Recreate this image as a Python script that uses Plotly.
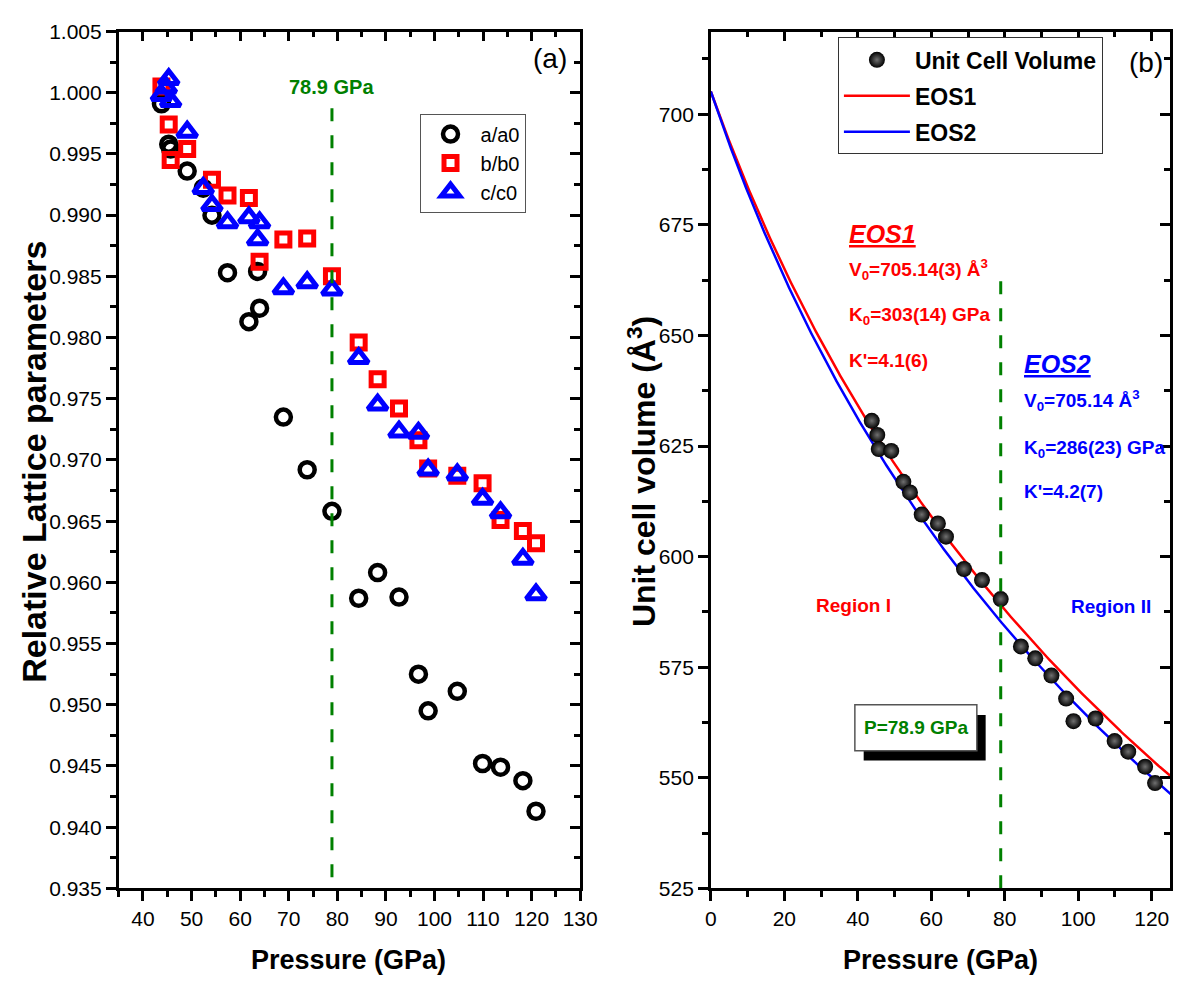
import numpy as np
import plotly.graph_objects as go

# ---------------- panel (a): relative lattice parameters ----------------
p_a = [43.8, 45.3, 45.7, 49.1, 52.4, 54.2, 57.4, 61.8, 63.6, 64.0, 68.9, 73.8,
       78.9, 84.4, 88.3, 92.7, 96.7, 98.7, 104.7, 109.9, 113.6, 118.2, 120.9]
a_rel = [0.9991, 0.9958, 0.9954, 0.9936, 0.9922, 0.9900, 0.9853, 0.9813, 0.9854,
         0.9824, 0.9735, 0.9692, 0.9658, 0.9587, 0.9608, 0.9588, 0.9525, 0.9495,
         0.9511, 0.9452, 0.9449, 0.9438, 0.9413]

p_b = [43.8, 45.3, 45.7, 49.1, 54.2, 57.4, 61.8, 64.0, 68.9, 73.8, 78.9, 84.4,
       88.3, 92.7, 96.7, 98.7, 104.7, 109.9, 113.6, 118.2, 120.9]
b_rel = [1.0005, 0.9974, 0.9945, 0.9954, 0.9929, 0.9916, 0.9914, 0.9862, 0.9880,
         0.9881, 0.9850, 0.9796, 0.9766, 0.9742, 0.9716, 0.9693, 0.9687, 0.9681,
         0.9651, 0.9642, 0.9632]

p_c = [43.8, 44.8, 45.3, 45.7, 49.1, 52.4, 54.2, 57.4, 61.8, 64.0, 63.6, 68.9,
       73.8, 78.9, 84.4, 88.3, 92.7, 96.7, 98.7, 104.7, 109.9, 113.6, 118.2, 120.9]
c_rel = [0.9998, 1.0004, 1.0011, 0.9993, 0.9968, 0.9922, 0.9908, 0.9894, 0.9898,
         0.9894, 0.9880, 0.9840, 0.9845, 0.9839, 0.9783, 0.9745, 0.9723, 0.9722,
         0.9692, 0.9688, 0.9668, 0.9657, 0.9619, 0.9590]

# ---------------- panel (b): unit-cell volume ----------------
p_vol = [43.8, 45.3, 45.7, 49.1, 52.4, 54.2, 57.4, 61.8, 64.0, 68.9, 73.8, 78.9,
         84.4, 88.3, 92.7, 96.7, 98.7, 104.7, 109.9, 113.6, 118.2, 120.9]
volume = [630.7, 627.5, 624.3, 623.9, 616.9, 614.5, 609.5, 607.5, 604.5, 597.2,
          594.7, 590.4, 579.7, 577.0, 573.1, 567.9, 562.8, 563.4, 558.3, 555.9,
          552.5, 548.8]

# third-order Birch-Murnaghan fit parameters
EOS1 = dict(V0=705.14, K0=303.0, Kp=4.1)
EOS2 = dict(V0=705.14, K0=286.0, Kp=4.2)
P_TRANSITION = 78.9


def bm3_pressure(V, V0, K0, Kp):
    f = (V0 / V) ** (2.0 / 3.0)
    return 1.5 * K0 * (f ** 3.5 - f ** 2.5) * (1.0 + 0.75 * (Kp - 4.0) * (f - 1.0))


v_grid = np.linspace(EOS1["V0"], 540.0, 400)
p_eos1 = bm3_pressure(v_grid, **EOS1)
p_eos2 = bm3_pressure(v_grid, **EOS2)

# ---------------- styling ----------------
FONT = "Liberation Sans, Arial, sans-serif"
W, H = 1193, 999
RED, BLUE, GREEN = "#ff0000", "#0000ff", "#008000"


def fx(px):
    return px / W


def fy(py):
    return 1 - py / H


fig = go.Figure()

# panel (a) markers
fig.add_trace(go.Scatter(
    x=p_a, y=a_rel, mode="markers", name="a/a0", legend="legend", legendgroup="a",
    marker=dict(symbol="circle-open", size=15, color="black", line=dict(width=4.5)),
    xaxis="x", yaxis="y"))
fig.add_trace(go.Scatter(
    x=p_b, y=b_rel, mode="markers", name="b/b0", legend="legend", legendgroup="b",
    marker=dict(symbol="square-open", size=13, color=RED, line=dict(width=5)),
    xaxis="x", yaxis="y"))
fig.add_trace(go.Scatter(
    x=p_c, y=c_rel, mode="markers", name="c/c0", legend="legend", legendgroup="c",
    marker=dict(symbol="triangle-up-open", size=17, color=BLUE, line=dict(width=5)),
    xaxis="x", yaxis="y"))

# panel (b) fits and data
fig.add_trace(go.Scatter(
    x=p_eos1, y=v_grid, mode="lines", name="EOS1", legend="legend2", legendgroup="e1",
    legendrank=2, line=dict(color=RED, width=2.5), xaxis="x2", yaxis="y2"))
fig.add_trace(go.Scatter(
    x=p_eos2, y=v_grid, mode="lines", name="EOS2", legend="legend2", legendgroup="e2",
    legendrank=3, line=dict(color=BLUE, width=2.5), xaxis="x2", yaxis="y2"))
fig.add_trace(go.Scatter(
    x=p_vol, y=volume, mode="markers", name="Unit Cell Volume", legend="legend2",
    legendgroup="v", legendrank=1,
    marker=dict(symbol="circle", size=16, color="black",
                gradient=dict(type="radial", color="#707070"),
                line=dict(width=0)),
    xaxis="x2", yaxis="y2"))

# empty traces that attach the mirrored (top / right) frame axes
for xa, ya in (("x3", "y"), ("x", "y3"), ("x4", "y2"), ("x2", "y4")):
    fig.add_trace(go.Scatter(x=[], y=[], xaxis=xa, yaxis=ya, showlegend=False,
                             hoverinfo="skip"))

AX_LINE = dict(showline=True, linecolor="black", linewidth=2.5, showgrid=False,
               zeroline=False, ticklen=10, tickwidth=2.5, tickcolor="black",
               tickfont=dict(family=FONT, size=21, color="black"))


def minor(kind, step, start=None):
    m = dict(ticks=kind, dtick=step, ticklen=6, tickwidth=2.5, tickcolor="black")
    if start is not None:
        m["tick0"] = start
    return m


left_x = [fx(115), fx(586)]
right_x = [fx(719.3), fx(1188)]
y_dom = [fy(897), fy(20)]
range_xa = [35, 130]
range_ya = [0.935, 1.005]
range_xb = [0, 125]
range_yb = [525, 718.7]

fig.update_layout(
    width=W, height=H, margin=dict(l=0, r=0, t=0, b=0),
    paper_bgcolor="white", plot_bgcolor="white", showlegend=True,
    font=dict(family=FONT, color="black"),
    xaxis=dict(domain=left_x, range=range_xa, anchor="y", tick0=40, dtick=10,
               ticks="outside", minor=minor("outside", 5, 35), **AX_LINE),
    yaxis=dict(domain=y_dom, range=range_ya, anchor="x", tick0=0.935, dtick=0.005,
               tickformat=".3f", ticks="outside", minor=minor("outside", 0.0025),
               **AX_LINE),
    xaxis3=dict(overlaying="x", side="top", anchor="y", range=range_xa, tick0=40,
                dtick=10, ticks="inside", showticklabels=False,
                minor=minor("inside", 5, 35), **AX_LINE),
    yaxis3=dict(overlaying="y", side="right", anchor="x", range=range_ya, tick0=0.935,
                dtick=0.005, ticks="inside", showticklabels=False,
                minor=minor("inside", 0.0025), **AX_LINE),
    xaxis2=dict(domain=right_x, range=range_xb, anchor="y2", tick0=0, dtick=20,
                ticks="outside", minor=minor("outside", 10), **AX_LINE),
    yaxis2=dict(domain=y_dom, range=range_yb, anchor="x2", tick0=525, dtick=25,
                ticks="outside", minor=minor("outside", 12.5), **AX_LINE),
    xaxis4=dict(overlaying="x2", side="top", anchor="y2", range=range_xb, tick0=0,
                dtick=20, ticks="inside", showticklabels=False,
                minor=minor("inside", 10), **AX_LINE),
    yaxis4=dict(overlaying="y2", side="right", anchor="x2", range=range_yb, tick0=525,
                dtick=25, ticks="inside", showticklabels=False,
                minor=minor("inside", 12.5), **AX_LINE),
    legend=dict(x=fx(422), y=fy(104), xanchor="left", yanchor="top",
                bgcolor="white", bordercolor="#555555", borderwidth=1,
                font=dict(family=FONT, size=20, color="black"),
                itemwidth=50, tracegroupgap=0, traceorder="grouped"),
    legend2=dict(x=fx(849), y=fy(26), xanchor="left", yanchor="top",
                 bgcolor="white", bordercolor="#333333", borderwidth=1,
                 font=dict(family=FONT, size=23, color="black", weight="bold"),
                 itemwidth=66, tracegroupgap=3, traceorder="grouped"),
)

# transition pressure markers
fig.add_shape(type="line", xref="x", yref="y", x0=P_TRANSITION, x1=P_TRANSITION,
              y0=0.9359, y1=0.9990, line=dict(color=GREEN, width=3, dash="13px,14px"))
fig.add_shape(type="line", xref="x2", yref="y2", x0=P_TRANSITION, x1=P_TRANSITION,
              y0=525, y1=662.8, line=dict(color=GREEN, width=3, dash="13px,14px"))

# boxed label with drop shadow
fig.add_shape(type="rect", xref="x2", yref="y2", x0=41.6, x1=74.8, y0=553.9, y1=564.2,
              fillcolor="black", line=dict(width=0))
fig.add_shape(type="rect", xref="x2", yref="y2", x0=39.2, x1=72.4, y0=556.1, y1=566.5,
              fillcolor="white", line=dict(color="#555555", width=1.5))


def note(text, x, y, xref, yref, color, size, xanchor="left", weight="bold",
         style="normal"):
    fig.add_annotation(text=text, x=x, y=y, xref=xref, yref=yref, showarrow=False,
                       xanchor=xanchor, yanchor="middle",
                       font=dict(family=FONT, size=size, color=color, weight=weight,
                                 style=style))


# panel (a) notes
note("78.9 GPa", P_TRANSITION, 1.00045, "x", "y", GREEN, 20, xanchor="center")
note("(a)", 123.7, 1.0028, "x", "y", "black", 28, xanchor="center", weight="normal")

# panel (b) notes
note("(b)", 118.4, 711.6, "x2", "y2", "black", 28, xanchor="center", weight="normal")
note("<u>EOS1</u>", 37.0, 673.0, "x2", "y2", RED, 25, style="italic")
note("V<sub>0</sub>=705.14(3) Å<sup>3</sup>", 37.0, 665.0, "x2", "y2", RED, 19)
note("K<sub>0</sub>=303(14) GPa", 37.0, 654.4, "x2", "y2", RED, 19)
note("K'=4.1(6)", 37.0, 644.3, "x2", "y2", RED, 19)
note("<u>EOS2</u>", 84.7, 643.6, "x2", "y2", BLUE, 25, style="italic")
note("V<sub>0</sub>=705.14 Å<sup>3</sup>", 84.7, 635.2, "x2", "y2", BLUE, 19)
note("K<sub>0</sub>=286(23) GPa", 84.7, 624.4, "x2", "y2", BLUE, 19)
note("K'=4.2(7)", 84.7, 614.7, "x2", "y2", BLUE, 19)
note("Region I", 38.9, 589.0, "x2", "y2", RED, 19, xanchor="center")
note("Region II", 108.9, 588.8, "x2", "y2", BLUE, 19, xanchor="center")
note("P=78.9 GPa", 55.8, 561.3, "x2", "y2", GREEN, 19, xanchor="center")

# axis titles
fig.add_annotation(text="Pressure (GPa)", x=fx(350), y=fy(970), xref="paper",
                   yref="paper", showarrow=False, xanchor="center", yanchor="middle",
                   font=dict(family=FONT, size=27, weight="bold"))
fig.add_annotation(text="Pressure (GPa)", x=fx(954), y=fy(970), xref="paper",
                   yref="paper", showarrow=False, xanchor="center", yanchor="middle",
                   font=dict(family=FONT, size=27, weight="bold"))
fig.add_annotation(text="Relative Lattice parameters", x=fx(29), y=fy(460),
                   xref="paper", yref="paper", showarrow=False, textangle=-90,
                   xanchor="center", yanchor="middle",
                   font=dict(family=FONT, size=34, weight="bold"))
fig.add_annotation(text="Unit cell volume (Å<sup>3</sup>)", x=fx(649), y=fy(470),
                   xref="paper", yref="paper", showarrow=False, textangle=-90,
                   xanchor="center", yanchor="middle",
                   font=dict(family=FONT, size=32, weight="bold"))

fig.write_html("out.html")
